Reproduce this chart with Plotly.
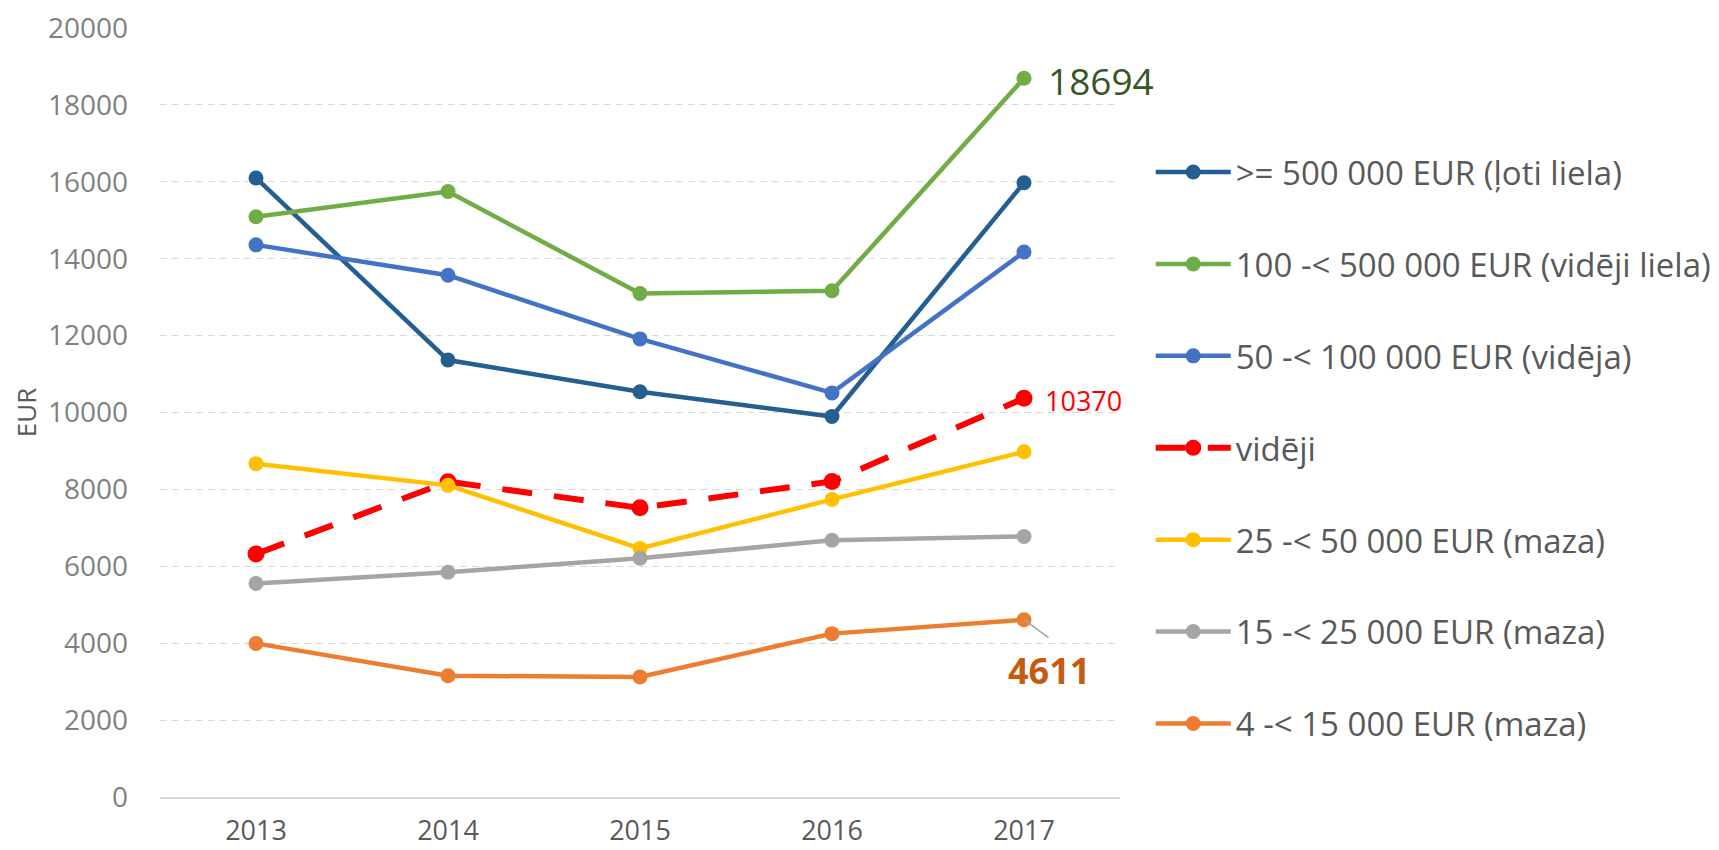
import plotly.graph_objects as go

years = ["2013", "2014", "2015", "2016", "2017"]

s_very_large = [16100, 11365, 10538, 9896, 15975]
s_mid_large = [15090, 15746, 13095, 13165, 18694]
s_medium = [14360, 13570, 11914, 10510, 14174]
s_average = [6320, 8200, 7520, 8207, 10370]
s_small_25 = [8670, 8105, 6466, 7740, 8980]
s_small_15 = [5555, 5847, 6212, 6676, 6775]
s_small_4 = [3995, 3153, 3124, 4249, 4611]

names = [
    ">= 500 000 EUR (ļoti liela)",
    "100 -< 500 000 EUR (vidēji liela)",
    "50 -< 100 000 EUR (vidēja)",
    "vidēji",
    "25 -< 50 000 EUR (maza)",
    "15 -< 25 000 EUR (maza)",
    "4 -< 15 000 EUR (maza)",
]
series = [s_very_large, s_mid_large, s_medium, s_average, s_small_25, s_small_15, s_small_4]
colors = ["#255E91", "#70AD47", "#4472C4", "#FF0000", "#FFC000", "#A5A5A5", "#ED7D31"]

y_ticks = [0, 2000, 4000, 6000, 8000, 10000, 12000, 14000, 16000, 18000, 20000]

FONT = "Open Sans"

fig = go.Figure()
for i, (nm, vals, col) in enumerate(zip(names, series, colors)):
    is_avg = nm == "vidēji"
    fig.add_trace(go.Scatter(
        x=years, y=vals, name=nm, mode="lines+markers",
        line=dict(color=col, width=6 if is_avg else 4.5, dash="30px,22px" if is_avg else "solid"),
        marker=dict(color=col, size=17 if is_avg else 15, symbol="circle"),
        legendgroup="g%d" % i,
    ))

last = years.index("2017")

# data labels
fig.add_annotation(x=last, y=s_mid_large[last], text=str(s_mid_large[last]), showarrow=False,
                   xanchor="left", yanchor="middle", xshift=22, yshift=-2,
                   font=dict(family=FONT, size=37, color="#375623"))
fig.add_annotation(x=last, y=s_average[last], text=str(s_average[last]), showarrow=False,
                   xanchor="left", yanchor="middle", xshift=19, yshift=-2,
                   font=dict(family=FONT, size=27, color="#FF0000"))
fig.add_annotation(x=last, y=s_small_4[last], text="", showarrow=True, arrowhead=0,
                   arrowwidth=1.5, arrowcolor="#A5A5A5", ax=26, ay=19, standoff=0)
fig.add_annotation(x=last, y=s_small_4[last], text="<b>%d</b>" % s_small_4[last], showarrow=False,
                   xanchor="center", yanchor="middle", xshift=25, yshift=-51,
                   font=dict(family=FONT, size=36, color="#C55A11"))

fig.update_layout(
    width=1711, height=842,
    margin=dict(l=152, r=599, t=20, b=53, autoexpand=False),
    paper_bgcolor="white", plot_bgcolor="white",
    font=dict(family=FONT, color="#595959"),
    showlegend=True,
    legend=dict(
        x=1.032, xanchor="left", y=0.849, yanchor="top",
        font=dict(family=FONT, size=33, color="#595959"),
        itemwidth=75, tracegroupgap=46, bgcolor="rgba(0,0,0,0)",
    ),
    xaxis=dict(
        type="category", range=[-0.5, 4.5], automargin=False,
        showgrid=False, showline=True, linecolor="#D9D9D9", linewidth=1.5,
        ticks="", ticklabelstandoff=9, ticklabeloverflow="allow",
        tickfont=dict(family=FONT, size=27, color="#595959"),
    ),
    yaxis=dict(
        range=[0, 20000], tickvals=y_ticks, ticktext=[str(v) for v in y_ticks],
        automargin=False,
        showgrid=True, gridcolor="#D9D9D9", gridwidth=1.3, griddash="7px,5px",
        zeroline=False, showline=False, ticks="", ticklabelstandoff=31,
        ticklabeloverflow="allow",
        tickfont=dict(family=FONT, size=28, color="#808080"),
        title=dict(text="EUR", font=dict(family=FONT, size=26, color="#595959"), standoff=22),
    ),
)

fig.write_html("out.html")
